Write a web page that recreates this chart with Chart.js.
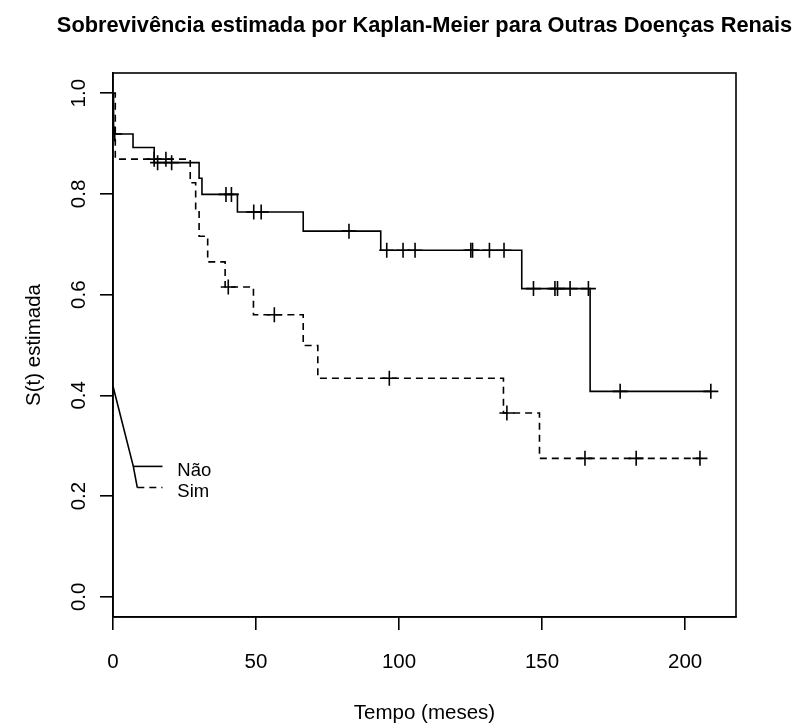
<!DOCTYPE html>
<html><head><meta charset="utf-8">
<script src="https://cdn.jsdelivr.net/npm/chart.js@4.4.1/dist/chart.umd.min.js"></script>
<style>html,body{margin:0;padding:0;background:#fff}#wrap{width:795px;height:727px;position:relative}</style>
</head><body><div id="wrap"><canvas id="c" width="795" height="727"></canvas></div>
<script>
const titleText = 'Sobrevivência estimada por Kaplan-Meier para Outras Doenças Renais';
const xTitle = 'Tempo (meses)';
const yTitle = 'S(t) estimada';
const xTicks = [0, 50, 100, 150, 200];
const yTicks = [0, 0.2, 0.4, 0.6, 0.8, 1.0];

// Grupo "Não" (linha contínua)
const naoEventTimes = [0.2, 7.0, 14.4, 30.1, 31.1, 43.5, 66.5, 93.6, 142.9, 166.8];
const naoSurv       = [0.919, 0.892, 0.862, 0.831, 0.799, 0.764, 0.726, 0.688, 0.612, 0.408];
const naoCensor     = [0.6, 15.6, 20.5, 39.5, 41.4, 49.2, 51.8, 82.5, 95.7, 101.4, 105.6, 125.1, 125.7, 131.6, 136.7, 147.0, 154.5, 155.4, 159.8, 166.2, 177.3, 209.0];
const naoEnd = 209.0;

// Grupo "Sim" (linha tracejada)
const simEventTimes = [0.8, 27.0, 28.9, 30.1, 33.1, 39.2, 49.1, 66.5, 71.6, 136.5, 149.1];
const simSurv       = [0.869, 0.822, 0.767, 0.716, 0.665, 0.615, 0.560, 0.499, 0.434, 0.365, 0.275];
const simCensor     = [14.4, 18.5, 40.3, 56.4, 96.6, 137.7, 165.0, 182.9, 205.2];
const simEnd = 205.2;

// Legenda (posicionada à mão no gráfico original)
const legendLabels = ['Não', 'Sim'];
const legendLineStart = [7.1, 8.5];
const legendLineEnd = [17.3, 17.3];
const legendLineY = [0.259, 0.217];
const legendTextX = 22.5;
const pointerX = [0, 7.1, 8.5];
const pointerY = [0.418, 0.259, 0.217];

function stepData(times, surv, end) {
  const pts = [{x: 0, y: 1}];
  let prev = 1;
  times.forEach((t, i) => { pts.push({x: t, y: prev}); pts.push({x: t, y: surv[i]}); prev = surv[i]; });
  pts.push({x: end, y: prev});
  return pts;
}
function survAt(times, surv, t) {
  let s = 1;
  times.forEach((et, i) => { if (et <= t) s = surv[i]; });
  return s;
}
const LW = 1.6;
const naoSteps = stepData(naoEventTimes, naoSurv, naoEnd);
const simSteps = stepData(simEventTimes, simSurv, simEnd);
const naoMarks = naoCensor.map(t => ({x: t, y: survAt(naoEventTimes, naoSurv, t)}));
const simMarks = simCensor.map(t => ({x: t, y: survAt(simEventTimes, simSurv, t)}));

const lineDs = (data, dash) => ({data, showLine: true, borderColor: '#000', borderWidth: LW, borderDash: dash || [], pointRadius: 0, fill: false, tension: 0});
const markDs = (data) => ({data, showLine: false, pointStyle: 'cross', pointRadius: 7.5, borderColor: '#000', borderWidth: LW, pointBorderWidth: LW});

const textFont = '"Liberation Sans", Arial, sans-serif';
const decor = {
  id: 'decor',
  afterDraw(chart) {
    const ctx = chart.ctx, a = chart.chartArea, xs = chart.scales.x, ys = chart.scales.y;
    ctx.save();
    ctx.strokeStyle = '#000'; ctx.lineWidth = LW;
    ctx.strokeRect(a.left, a.top, a.right - a.left, a.bottom - a.top);
    ctx.fillStyle = '#000';
    ctx.font = 'bold 21.8px ' + textFont;
    ctx.textAlign = 'center'; ctx.textBaseline = 'alphabetic';
    ctx.fillText(titleText, (a.left + a.right) / 2, 31.5);
    ctx.font = '20.5px ' + textFont;
    xTicks.forEach(v => ctx.fillText(String(v), xs.getPixelForValue(v), 668));
    ctx.fillText(xTitle, (a.left + a.right) / 2, 719);
    yTicks.forEach(v => {
      ctx.save(); ctx.translate(85, ys.getPixelForValue(v)); ctx.rotate(-Math.PI / 2);
      ctx.fillText(v.toFixed(1), 0, 0); ctx.restore();
    });
    ctx.save(); ctx.translate(40, (a.top + a.bottom) / 2); ctx.rotate(-Math.PI / 2);
    ctx.fillText(yTitle, 0, 0); ctx.restore();
    ctx.font = '18.5px ' + textFont; ctx.textAlign = 'left';
    legendLabels.forEach((lab, i) => ctx.fillText(lab, xs.getPixelForValue(legendTextX), ys.getPixelForValue(legendLineY[i]) + 9.5));
    ctx.restore();
  }
};

new Chart(document.getElementById('c'), {
  type: 'scatter',
  data: {datasets: [
    lineDs(naoSteps),
    lineDs(simSteps, [7, 5]),
    markDs(naoMarks),
    markDs(simMarks),
    lineDs(pointerX.map((x, i) => ({x, y: pointerY[i]}))),
    lineDs([{x: legendLineStart[0], y: legendLineY[0]}, {x: legendLineEnd[0], y: legendLineY[0]}]),
    lineDs([{x: legendLineStart[1], y: legendLineY[1]}, {x: legendLineEnd[1], y: legendLineY[1]}], [7, 5])
  ]},
  options: {
    responsive: false, animation: false, devicePixelRatio: 1,
    layout: {padding: {top: 73, right: 59, left: 0, bottom: 0}},
    plugins: {legend: {display: false}, tooltip: {enabled: false}, title: {display: false}},
    scales: {
      x: {type: 'linear', min: 0, max: 217.8,
        ticks: {display: false, includeBounds: false},
        afterBuildTicks: s => { s.ticks = xTicks.map(v => ({value: v})); },
        afterFit: s => { s.height = 110; },
        grid: {display: true, drawOnChartArea: false, drawTicks: true, tickLength: 13, color: '#000', lineWidth: LW},
        border: {display: true, color: '#000', width: LW}},
      y: {type: 'linear', min: -0.04, max: 1.04,
        ticks: {display: false, includeBounds: false},
        afterBuildTicks: s => { s.ticks = yTicks.map(v => ({value: v})); },
        afterFit: s => { s.width = 113; },
        grid: {display: true, drawOnChartArea: false, drawTicks: true, tickLength: 13, color: '#000', lineWidth: LW},
        border: {display: true, color: '#000', width: LW}}
    }
  },
  plugins: [decor]
});
</script></body></html>
